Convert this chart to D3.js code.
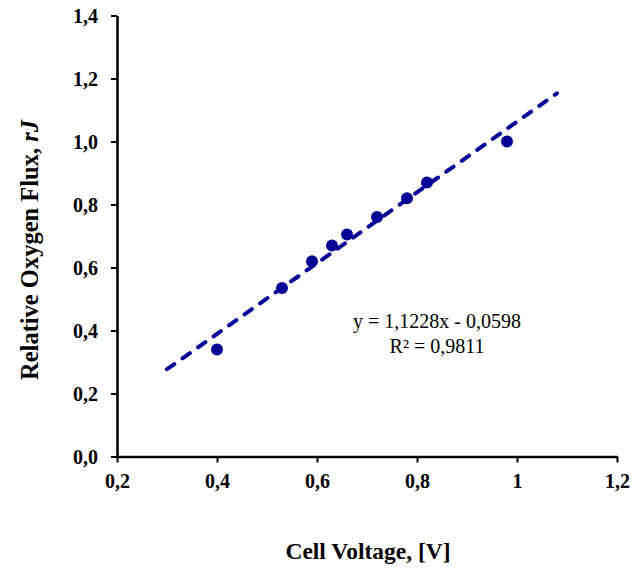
<!DOCTYPE html>
<html><head><meta charset="utf-8">
<script src="https://cdn.jsdelivr.net/npm/d3@7"></script>
<style>
html,body{margin:0;padding:0;background:#fff;}
svg{display:block;}
</style></head>
<body>
<svg id="chart" width="643" height="568"></svg>
<script>
// Data
const voltage = [0.40, 0.53, 0.59, 0.63, 0.66, 0.72, 0.78, 0.82, 0.98];
const flux    = [0.34, 0.535, 0.62, 0.67, 0.705, 0.76, 0.82, 0.87, 1.00];
const xTicks = [0.2, 0.4, 0.6, 0.8, 1.0, 1.2];
const xTickLabels = ["0,2", "0,4", "0,6", "0,8", "1", "1,2"];
const yTicks = [0, 0.2, 0.4, 0.6, 0.8, 1.0, 1.2, 1.4];
const yTickLabels = ["0,0", "0,2", "0,4", "0,6", "0,8", "1,0", "1,2", "1,4"];
const trendSlope = 1.1228, trendIntercept = -0.0598;
const trendRange = [0.30, 1.08];
const equationLines = ["y = 1,1228x - 0,0598", "R² = 0,9811"];

const svg = d3.select("#chart");
const x = d3.scaleLinear().domain([0.2, 1.2]).range([117, 617]);
const y = d3.scaleLinear().domain([0, 1.4]).range([456.5, 15.5]);
const blue = "#000096";
const serif = "'Liberation Serif','Times New Roman',serif";

// axes
const xAxis = d3.axisBottom(x).tickValues(xTicks).tickSize(6).tickSizeOuter(0)
  .tickFormat((d,i) => xTickLabels[i]);
const gx = svg.append("g").attr("transform", `translate(0,${y(0)})`).call(xAxis);
const yAxis = d3.axisLeft(y).tickValues(yTicks).tickSize(6).tickSizeOuter(0)
  .tickFormat((d,i) => yTickLabels[i]);
const gy = svg.append("g").attr("transform", `translate(${x(0.2)},0)`).call(yAxis);

[gx, gy].forEach(g => {
  g.select(".domain").attr("stroke", "#000").attr("stroke-width", 2.6);
  g.selectAll(".tick line").attr("stroke", "#000").attr("stroke-width", 2);
  g.selectAll(".tick text").attr("font-family", serif).attr("font-weight", "bold")
    .attr("font-size", 20).attr("fill", "#000");
});
gx.selectAll(".tick text").attr("dy", null).attr("y", 31);
gy.selectAll(".tick text").attr("x", -19).attr("dy", "0.34em");

// trend line
const line = d3.line().x(d => x(d)).y(d => y(trendSlope * d + trendIntercept));
svg.append("path").datum(trendRange).attr("d", line)
  .attr("fill", "none").attr("stroke", blue).attr("stroke-width", 4)
  .attr("stroke-dasharray", "9,10").attr("stroke-linecap", "round");

// points
svg.append("g").selectAll("circle").data(voltage).join("circle")
  .attr("cx", d => x(d)).attr("cy", (d,i) => y(flux[i])).attr("r", 6)
  .attr("fill", blue);

// equation
svg.append("g").selectAll("text").data(equationLines).join("text")
  .attr("x", 437).attr("y", (d,i) => 328 + i * 25)
  .attr("text-anchor", "middle").attr("font-family", serif)
  .attr("font-size", 20).attr("fill", "#000").text(d => d);

// axis titles
svg.append("text").attr("x", 368).attr("y", 559).attr("text-anchor", "middle")
  .attr("font-family", serif).attr("font-weight", "bold").attr("font-size", 23.5)
  .text("Cell Voltage, [V]");

const yt = svg.append("text").attr("transform", "translate(38,250) rotate(-90)")
  .attr("text-anchor", "middle").attr("font-family", serif)
  .attr("font-weight", "bold").attr("font-size", 24.5);
yt.append("tspan").text("Relative Oxygen Flux, ");
yt.append("tspan").attr("font-style", "italic").text("rJ");
</script>
</body></html>
